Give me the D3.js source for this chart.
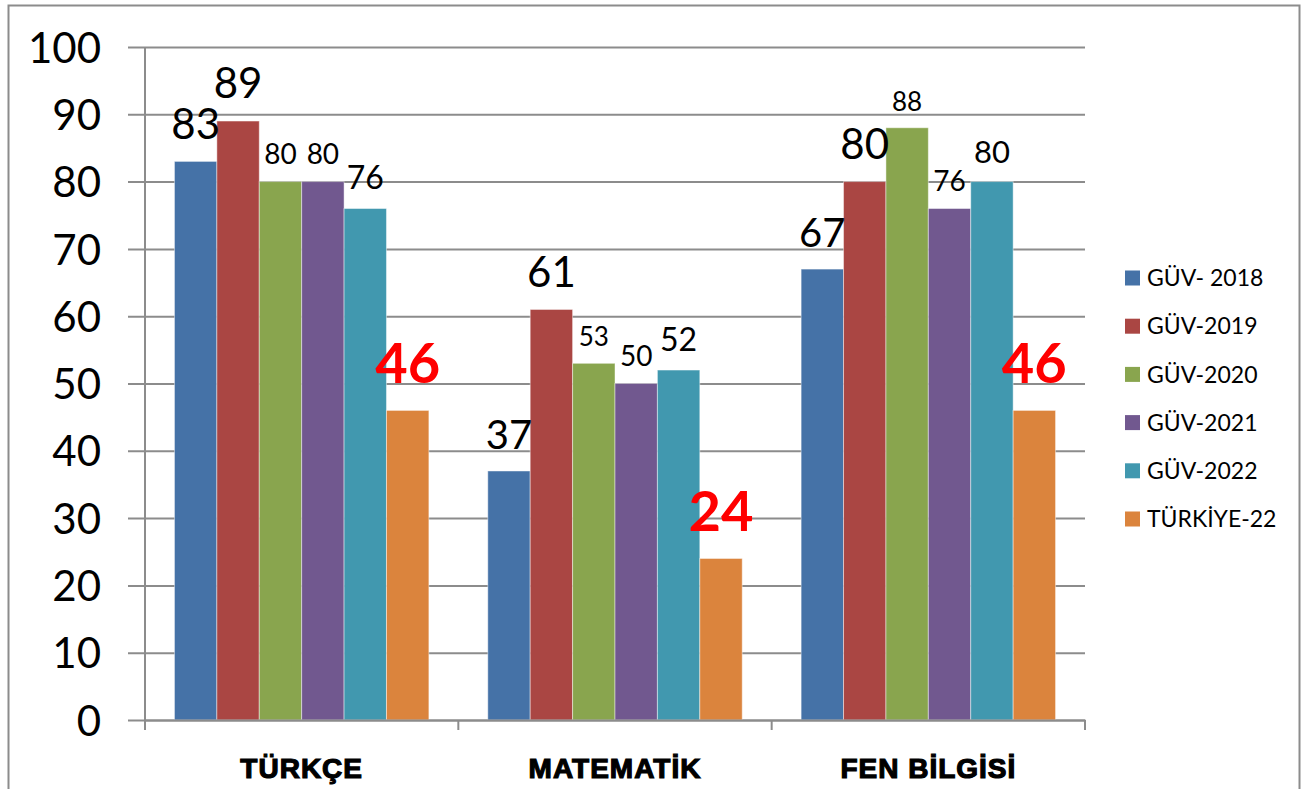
<!DOCTYPE html>
<html>
<head>
<meta charset="utf-8">
<script src="https://cdn.jsdelivr.net/npm/d3@7"></script>
<style>
  body { margin: 0; background: #fff; }
  text { font-family: Lato, "Open Sans", sans-serif; }
  .cat text { font-family: "Liberation Sans", Arial, sans-serif; }
</style>
</head>
<body>
<svg id="chart"></svg>
<script>
// chart data
const categories = ["TÜRKÇE", "MATEMATİK", "FEN BİLGİSİ"];
const seriesNames = ["GÜV- 2018", "GÜV-2019", "GÜV-2020", "GÜV-2021", "GÜV-2022", "TÜRKİYE-22"];
const guv2018 = [83, 37, 67];
const guv2019 = [89, 61, 80];
const guv2020 = [80, 53, 88];
const guv2021 = [80, 50, 76];
const guv2022 = [76, 52, 80];
const turkiye22 = [46, 24, 46];
const yTicks = [0, 10, 20, 30, 40, 50, 60, 70, 80, 90, 100];

const seriesValues = [guv2018, guv2019, guv2020, guv2021, guv2022, turkiye22];
const colors = ["#4572A7", "#AA4643", "#89A54E", "#71588F", "#4198AF", "#DB843D"];

// label font sizes as they appear in the picture (per category, per series)
const labelSize = [
  [42, 42, 28, 28, 32, 56],
  [40, 42, 26, 28, 32, 56],
  [40, 42, 26, 28, 31, 56]
];

const width = 1311, height = 789;
const plot = { left: 145, right: 1085, top: 47, bottom: 720 };

const svg = d3.select("#chart")
  .attr("width", width)
  .attr("height", height);

// outer frame
svg.append("rect")
  .attr("x", 8.5).attr("y", 5.5)
  .attr("width", 1291).attr("height", 800)
  .attr("fill", "none")
  .attr("stroke", "#8c8c8c")
  .attr("stroke-width", 2);

const y = d3.scaleLinear().domain([0, 100]).range([plot.bottom, plot.top]);
const x0 = d3.scaleBand().domain(categories).range([plot.left, plot.right]).padding(0);
const gap = x0.bandwidth() * 0.094;
const x1 = d3.scaleBand().domain(d3.range(seriesNames.length))
  .range([gap, x0.bandwidth() - gap]).padding(0);

// gridlines + y ticks
const yAxis = d3.axisLeft(y)
  .tickValues(yTicks)
  .tickSize(-(plot.right - plot.left))
  .tickPadding(44)
  .tickSizeOuter(0);

const gy = svg.append("g")
  .attr("transform", `translate(${plot.left},0)`)
  .call(yAxis);
gy.select(".domain").remove();
gy.selectAll(".tick line")
  .attr("x1", -17)
  .attr("stroke", "#8c8c8c")
  .attr("stroke-width", 2);
gy.selectAll(".tick text")
  .attr("font-size", 42)
  .attr("fill", "#000")
  .attr("dy", "0.36em");

// vertical axis line
svg.append("line")
  .attr("x1", plot.left).attr("x2", plot.left)
  .attr("y1", plot.top).attr("y2", plot.bottom)
  .attr("stroke", "#8c8c8c").attr("stroke-width", 2);

// bars
const groups = svg.append("g").selectAll("g")
  .data(categories)
  .join("g")
  .attr("transform", d => `translate(${x0(d)},0)`);

groups.selectAll("rect")
  .data((c, ci) => seriesValues.map((vals, si) => ({ si, ci, v: vals[ci] })))
  .join("rect")
  .attr("x", d => x1(d.si))
  .attr("y", d => y(d.v))
  .attr("width", x1.bandwidth())
  .attr("height", d => y(0) - y(d.v))
  .attr("fill", d => colors[d.si])
  .attr("stroke", "rgba(255,255,255,0.45)")
  .attr("stroke-width", 1);

// value labels
groups.selectAll("text.val")
  .data((c, ci) => seriesValues.map((vals, si) => ({ si, ci, v: vals[ci] })))
  .join("text")
  .attr("class", "val")
  .attr("x", d => x1(d.si) + x1.bandwidth() / 2)
  .attr("y", d => {
    const s = labelSize[d.ci][d.si];
    return y(d.v) - (8 + 0.35 * s);
  })
  .attr("text-anchor", "middle")
  .attr("font-size", d => labelSize[d.ci][d.si])
  .attr("font-weight", d => d.si === 5 ? "bold" : "normal")
  .attr("fill", d => d.si === 5 ? "#FF0000" : "#000")
  .text(d => d.v);

// x axis
const xAxis = d3.axisBottom(x0).tickSize(0).tickSizeOuter(0).tickPadding(38);
const gx = svg.append("g")
  .attr("class", "cat")
  .attr("transform", `translate(0,${plot.bottom})`)
  .call(xAxis);
gx.select(".domain")
  .attr("stroke", "#8c8c8c").attr("stroke-width", 2);
gx.selectAll(".tick text")
  .attr("font-weight", "bold")
  .attr("font-size", 28)
  .attr("fill", "#000")
  .attr("stroke", "#000")
  .attr("stroke-width", 1.2)
  .attr("letter-spacing", 1);

// category separator ticks
const sepTicks = categories.map(c => x0(c)).concat([plot.right]);
svg.append("g").selectAll("line")
  .data(sepTicks)
  .join("line")
  .attr("x1", d => d).attr("x2", d => d)
  .attr("y1", plot.bottom).attr("y2", plot.bottom + 10)
  .attr("stroke", "#8c8c8c").attr("stroke-width", 2);

// legend
const legend = svg.append("g")
  .attr("transform", "translate(1125,278)");
const items = legend.selectAll("g")
  .data(seriesNames)
  .join("g")
  .attr("transform", (d, i) => `translate(0,${i * 48.2})`);
items.append("rect")
  .attr("x", 0).attr("y", -7.5)
  .attr("width", 15).attr("height", 15)
  .attr("fill", (d, i) => colors[i]);
items.append("text")
  .attr("x", 22)
  .attr("dy", "0.36em")
  .attr("font-size", 23)
  .attr("fill", "#000")
  .text(d => d);
</script>
</body>
</html>
